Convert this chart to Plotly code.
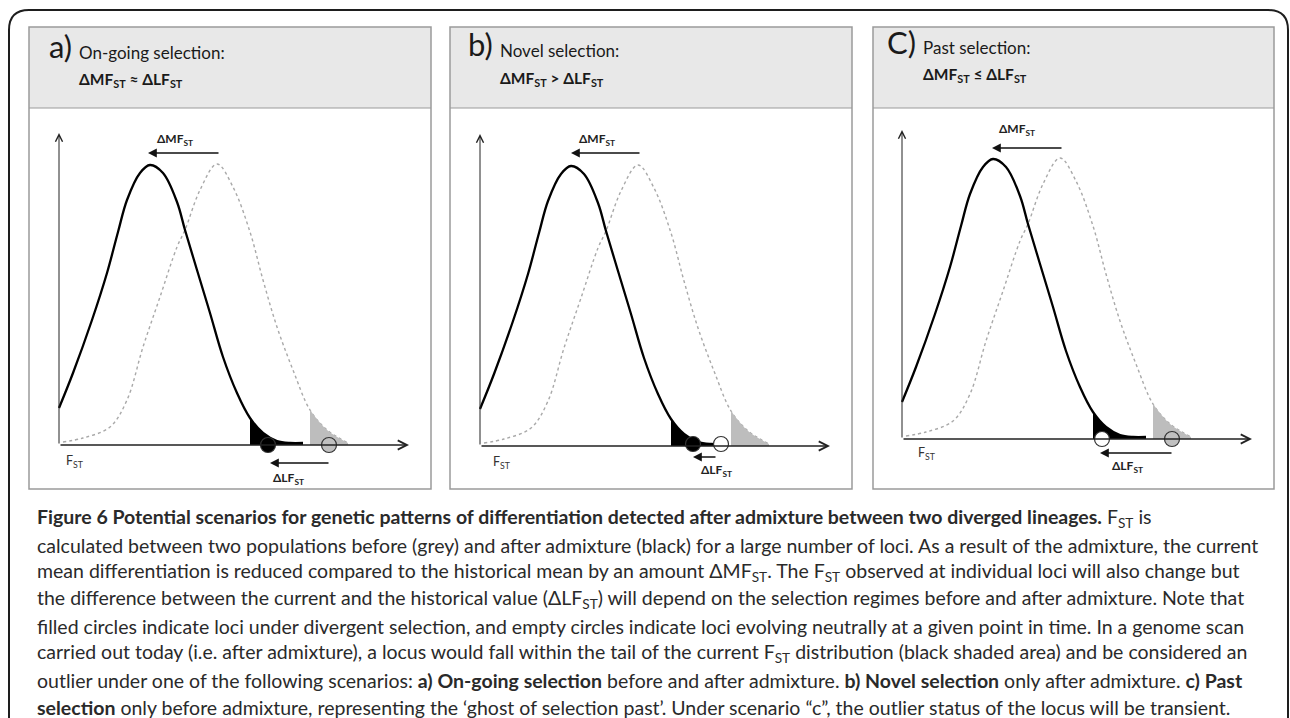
import plotly.graph_objects as go

W, H = 1290, 718

# ---------------- data ----------------
# Shapes of the F_ST distributions; x = offset from the y-axis, y = height above the x-axis
cur_x = [0, 14, 33, 48, 59, 68, 81, 91, 104, 118, 126, 138, 151, 164, 178, 191, 204, 218, 231, 244]
cur_y = [37, 72, 125, 172, 213, 245, 272, 280, 272, 243, 215, 175, 132, 88, 52, 27, 12, 4, 2, 2]
hist_x = [4, 24, 51, 68, 84, 101, 118, 126, 141, 158, 174, 191, 204, 218, 234, 251, 268, 289]
hist_y = [3, 7, 18, 45, 98, 148, 198, 215, 255, 281, 258, 213, 165, 118, 75, 35, 15, 2]
cur_tail_start = 191
hist_tail_start = 251

panel_letters = ["a)", "b)", "C)"]
panel_titles = ["On-going selection:", "Novel selection:", "Past selection:"]
panel_relations = ["≈", ">", "≤"]

# loci (circles) per panel
locus_x = [[209, 270], [213, 241], [200, 270]]
locus_y = [[0, 0], [2, 2], [0, 0]]
locus_fill = [["black", "#c0c0c0"], ["black", "white"], ["white", "#c0c0c0"]]

# ΔMF_ST arrows / labels
dmf_from = [161, 161, 161]
dmf_to = [89, 91, 90]
dmf_h = [292, 293, 291]
dmf_label_x = [116, 117, 115]
dmf_label_h = [305, 306, 309]
# ΔLF_ST arrows / labels
dlf_from = [271, 237, 271]
dlf_to = [211, 213, 198]
dlf_h = [-18, -11, -14]
dlf_label_x = [229, 236, 225]
dlf_label_h = [-34, -25, -28]
# F_ST axis label
fst_label_x = [16, 22, 25]
fst_label_h = [-17, -17, -15]
yaxis_top = [312, 312, 309]
xaxis_end = 350

caption_lines = [
    "<b>Figure 6 Potential scenarios for genetic patterns of differentiation detected after admixture between two diverged lineages.</b> F<sub>ST</sub> is",
    "calculated between two populations before (grey) and after admixture (black) for a large number of loci. As a result of the admixture, the current",
    "mean differentiation is reduced compared to the historical mean by an amount ΔMF<sub>ST</sub>. The F<sub>ST</sub> observed at individual loci will also change but",
    "the difference between the current and the historical value (ΔLF<sub>ST</sub>) will depend on the selection regimes before and after admixture. Note that",
    "filled circles indicate loci under divergent selection, and empty circles indicate loci evolving neutrally at a given point in time. In a genome scan",
    "carried out today (i.e. after admixture), a locus would fall within the tail of the current F<sub>ST</sub> distribution (black shaded area) and be considered an",
    "outlier under one of the following scenarios: <b>a) On-going selection</b> before and after admixture. <b>b) Novel selection</b> only after admixture. <b>c) Past</b>",
    "<b>selection</b> only before admixture, representing the ‘ghost of selection past’. Under scenario “c”, the outlier status of the locus will be transient.",
]

# ---------------- layout geometry (pixels) ----------------
box_left = [29, 450, 873]
box_right = [431, 852, 1274]
box_top, head_bottom, box_bottom = 27, 108, 489
origin_x = [59, 480, 902]
origin_y = [445, 446, 439]
title_y = [52, 50, 47]
formula_y = [80, 79, 75]
letter_y = [46, 44, 42]
text_off = 48

FONT = "Lato"

def px(x):
    return x / W

def py(y):
    return 1 - y / H

fig = go.Figure()
annotations = []
shapes = []

# outer frame with rounded top corners
r = 20
L, R, T, B = 9, 1288, 10, 740
path = (f"M {px(L)},{py(B)} L {px(L)},{py(T + r)} Q {px(L)},{py(T)} {px(L + r)},{py(T)} "
        f"L {px(R - r)},{py(T)} Q {px(R)},{py(T)} {px(R)},{py(T + r)} L {px(R)},{py(B)}")
shapes.append(dict(type="path", xref="paper", yref="paper", path=path,
                   line=dict(color="#1e1e1e", width=2)))

layout_axes = {}
for i in range(3):
    sx = "" if i == 0 else str(i + 1)
    xa, ya = "x" + sx, "y" + sx
    ox, oy = origin_x[i], origin_y[i]
    layout_axes["xaxis" + sx] = dict(domain=[px(box_left[i]), px(box_right[i])],
                                    range=[box_left[i] - ox, box_right[i] - ox],
                                    visible=False, fixedrange=True, anchor=ya)
    layout_axes["yaxis" + sx] = dict(domain=[py(box_bottom), py(head_bottom)],
                                    range=[oy - box_bottom, oy - head_bottom],
                                    visible=False, fixedrange=True, anchor=xa)

    # header and box
    shapes.append(dict(type="rect", xref="paper", yref="paper", layer="below",
                       x0=px(box_left[i]), x1=px(box_right[i]), y0=py(head_bottom), y1=py(box_top),
                       fillcolor="#e8e8e8", line=dict(width=0)))
    shapes.append(dict(type="rect", xref="paper", yref="paper",
                       x0=px(box_left[i]), x1=px(box_right[i]), y0=py(box_bottom), y1=py(box_top),
                       line=dict(color="#9a9a9a", width=1.5)))
    shapes.append(dict(type="line", xref="paper", yref="paper",
                       x0=px(box_left[i]), x1=px(box_right[i]), y0=py(head_bottom), y1=py(head_bottom),
                       line=dict(color="#9a9a9a", width=1.2)))

    tx = box_left[i] + text_off
    annotations.append(dict(xref="paper", yref="paper", x=px(tx - 3), y=py(letter_y[i]),
                            xanchor="right", yanchor="middle", showarrow=False,
                            text=panel_letters[i], font=dict(family=FONT, size=31, color="#1a1a1a")))
    annotations.append(dict(xref="paper", yref="paper", x=px(tx), y=py(title_y[i]),
                            xanchor="left", yanchor="middle", showarrow=False,
                            text=panel_titles[i], font=dict(family=FONT, size=17, color="#1a1a1a")))
    annotations.append(dict(xref="paper", yref="paper", x=px(tx), y=py(formula_y[i]),
                            xanchor="left", yanchor="middle", showarrow=False,
                            text=f"<b>ΔMF<sub>ST</sub> {panel_relations[i]} ΔLF<sub>ST</sub></b>",
                            font=dict(family=FONT, size=15.5, color="#1a1a1a")))

    # historical (grey, dotted) distribution
    fig.add_trace(go.Scatter(x=hist_x, y=hist_y, mode="lines", xaxis=xa, yaxis=ya,
                             line=dict(color="#a9a9a9", width=1.4, dash="dot", shape="spline"),
                             hoverinfo="skip", showlegend=False))
    hx = [v for v in hist_x if v >= hist_tail_start]
    hy = [hist_y[k] for k, v in enumerate(hist_x) if v >= hist_tail_start]
    fig.add_trace(go.Scatter(x=hx, y=hy, mode="lines", fill="tozeroy", fillcolor="#bdbdbd",
                             xaxis=xa, yaxis=ya, line=dict(width=0, shape="spline", color="#bdbdbd"),
                             hoverinfo="skip", showlegend=False))
    # current (black) distribution
    cx = [v for v in cur_x if v >= cur_tail_start]
    cy = [cur_y[k] for k, v in enumerate(cur_x) if v >= cur_tail_start]
    fig.add_trace(go.Scatter(x=cx, y=cy, mode="lines", fill="tozeroy", fillcolor="black",
                             xaxis=xa, yaxis=ya, line=dict(width=0, shape="spline", color="black"),
                             hoverinfo="skip", showlegend=False))
    fig.add_trace(go.Scatter(x=cur_x, y=cur_y, mode="lines", xaxis=xa, yaxis=ya,
                             line=dict(color="black", width=2.3, shape="spline"),
                             hoverinfo="skip", showlegend=False))

    # axes with open arrow heads
    annotations.append(dict(xref=xa, yref=ya, axref=xa, ayref=ya, x=0, y=yaxis_top[i], ax=0, ay=0,
                            text="", showarrow=True, arrowhead=5, arrowsize=1.4, arrowwidth=1,
                            arrowcolor="#222"))
    annotations.append(dict(xref=xa, yref=ya, axref=xa, ayref=ya, x=xaxis_end, y=0, ax=0, ay=0,
                            text="", showarrow=True, arrowhead=5, arrowsize=1.4, arrowwidth=1.3,
                            arrowcolor="#222"))

    # loci
    fig.add_trace(go.Scatter(x=locus_x[i], y=locus_y[i], mode="markers", xaxis=xa, yaxis=ya,
                             marker=dict(size=15, color=locus_fill[i], line=dict(color="#333", width=1.2)),
                             hoverinfo="skip", showlegend=False))

    # ΔMF arrow & label
    annotations.append(dict(xref=xa, yref=ya, axref=xa, ayref=ya, x=dmf_to[i], y=dmf_h[i],
                            ax=dmf_from[i], ay=dmf_h[i], text="", showarrow=True,
                            arrowhead=2, arrowsize=1.1, arrowwidth=1.6, arrowcolor="#111"))
    annotations.append(dict(xref=xa, yref=ya, x=dmf_label_x[i], y=dmf_label_h[i], showarrow=False,
                            text="<b>ΔMF<sub>ST</sub></b>", xanchor="center", yanchor="middle",
                            font=dict(family=FONT, size=12, color="#222")))
    # ΔLF arrow & label
    annotations.append(dict(xref=xa, yref=ya, axref=xa, ayref=ya, x=dlf_to[i], y=dlf_h[i],
                            ax=dlf_from[i], ay=dlf_h[i], text="", showarrow=True,
                            arrowhead=2, arrowsize=1.1, arrowwidth=1.6, arrowcolor="#111"))
    annotations.append(dict(xref=xa, yref=ya, x=dlf_label_x[i], y=dlf_label_h[i], showarrow=False,
                            text="<b>ΔLF<sub>ST</sub></b>", xanchor="center", yanchor="middle",
                            font=dict(family=FONT, size=12, color="#222")))
    # F_ST label
    annotations.append(dict(xref=xa, yref=ya, x=fst_label_x[i], y=fst_label_h[i], showarrow=False,
                            text="F<sub>ST</sub>", xanchor="center", yanchor="middle",
                            font=dict(family=FONT, size=12.5, color="#333")))

# caption
for k, line in enumerate(caption_lines):
    annotations.append(dict(xref="paper", yref="paper", x=px(35), y=py(518 + k * 27.0),
                            xanchor="left", yanchor="middle", showarrow=False, text=line,
                            font=dict(family=FONT, size=19.5, color="#2a2a2a")))

fig.update_layout(width=W, height=H, margin=dict(l=0, r=0, t=0, b=0),
                  paper_bgcolor="white", plot_bgcolor="rgba(0,0,0,0)",
                  shapes=shapes, annotations=annotations, showlegend=False, **layout_axes)

fig.write_html("out.html", config={"displayModeBar": False})
